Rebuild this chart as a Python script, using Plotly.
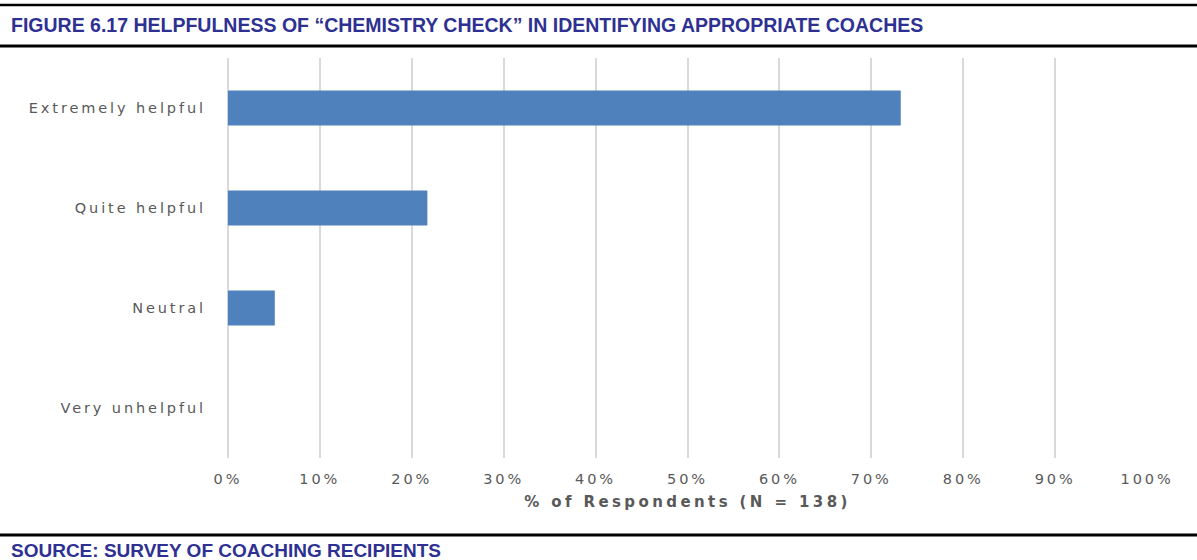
import plotly.graph_objects as go

categories = ["Extremely helpful", "Quite helpful", "Neutral", "Very unhelpful"]
values = [73.2, 21.7, 5.1, 0.0]
tick_vals = [0, 10, 20, 30, 40, 50, 60, 70, 80, 90, 100]
tick_text = ["0%", "10%", "20%", "30%", "40%", "50%", "60%", "70%", "80%", "90%", "100%"]

title_text = "FIGURE 6.17 HELPFULNESS OF “CHEMISTRY CHECK” IN IDENTIFYING APPROPRIATE COACHES"
source_text = "SOURCE: SURVEY OF COACHING RECIPIENTS"
x_title = "% of Respondents (N = 138)"

navy = "#2E3192"
grey = "#595959"

W, H = 1197, 560
L, R, T, B = 227, 49, 58, 102
PW, PH = W - L - R, H - T - B


def px(x):
    return (x - L) / PW


def py(y):
    return (H - B - y) / PH


fig = go.Figure(go.Bar(
    x=values, y=categories, orientation="h",
    marker=dict(color="#4F81BD", line=dict(width=0)),
    width=0.35,
))

fig.update_layout(
    width=W, height=H,
    margin=dict(l=L, r=R, t=T, b=B, pad=0),
    paper_bgcolor="white", plot_bgcolor="white",
    showlegend=False,
    font=dict(family="DejaVu Sans", color=grey, size=14),
    xaxis=dict(
        range=[-0.1, 100.1], tickvals=tick_vals, ticktext=tick_text,
        showgrid=True, gridcolor="#D9D9D9", gridwidth=1.5,
        zeroline=True, zerolinecolor="#D9D9D9", zerolinewidth=1.5,
        showline=False, ticks="", ticklabelstandoff=10,
        tickfont=dict(family="DejaVu Sans", size=14.5, color=grey),
        title=dict(text="<b>" + x_title + "</b>", standoff=10,
                   font=dict(family="DejaVu Sans", size=15, color=grey)),
    ),
    yaxis=dict(
        categoryorder="array", categoryarray=categories[::-1],
        range=[-0.5, 3.5],
        showgrid=False, zeroline=False, showline=False, ticks="",
        ticklabelstandoff=20,
        tickfont=dict(family="DejaVu Sans", size=14.5, color=grey),
    ),
    shapes=[
        dict(type="line", xref="paper", yref="paper", x0=px(0), x1=px(W),
             y0=py(5), y1=py(5), line=dict(color="black", width=2.5)),
        dict(type="line", xref="paper", yref="paper", x0=px(0), x1=px(W),
             y0=py(46), y1=py(46), line=dict(color="black", width=3)),
        dict(type="line", xref="paper", yref="paper", x0=px(0), x1=px(W),
             y0=py(535), y1=py(535), line=dict(color="black", width=3)),
    ],
    annotations=[
        dict(text="<b>" + title_text + "</b>", xref="paper", yref="paper",
             x=px(9), y=py(25), xanchor="left", yanchor="middle", showarrow=False,
             font=dict(family="Liberation Sans", size=19.5, color=navy)),
        dict(text="<b>" + source_text + "</b>", xref="paper", yref="paper",
             x=px(9), y=py(550), xanchor="left", yanchor="middle", showarrow=False,
             font=dict(family="Liberation Sans", size=19, color=navy)),
    ],
)

fig.write_html("out.html", config={"displayModeBar": False})

with open("out.html", encoding="utf-8") as f:
    html = f.read()
css = ("<style>html,body{margin:0;padding:0;overflow:hidden;}"
       ".xtick text,.ytick text{letter-spacing:2.9px;}"
       ".g-xtitle text{letter-spacing:3.4px;}</style>")
html = html.replace("<head>", "<head>" + css, 1)
with open("out.html", "w", encoding="utf-8") as f:
    f.write(html)
